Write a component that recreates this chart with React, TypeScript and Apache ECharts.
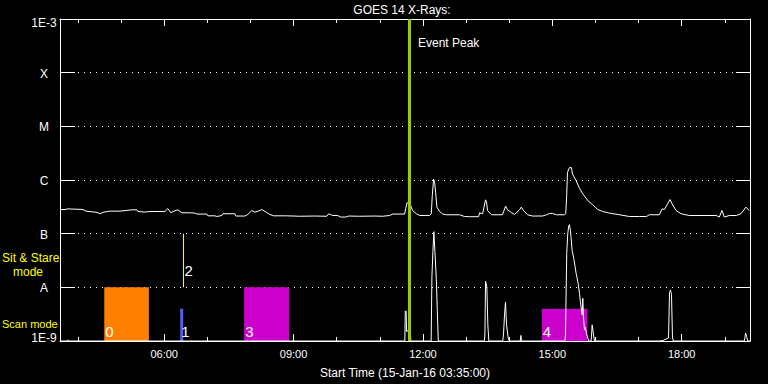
import React, { useEffect, useRef } from 'react';
import * as echarts from 'echarts';

// ---- data ----
const titleText = 'GOES 14 X-Rays:';
const axisTitle = 'Start Time (15-Jan-16 03:35:00)';
const xStartHour = 3.5833; // 03:35
const xEndHour = 19.5833; // 19:35
const majorHours = [6, 9, 12, 15, 18];
const minorHours = [4, 5, 6, 7, 8, 9, 10, 11, 12, 13, 14, 15, 16, 17, 18, 19];
const yTickLabels = ['1E-9', 'A', 'B', 'C', 'M', 'X', '1E-3'];

// long channel flux (W/m^2), hours of day
const longTime = [
  3.583, 3.722, 3.745, 4.116, 4.185, 4.394, 4.463, 4.51, 4.6, 4.741,
  4.973, 5.251, 5.367, 5.39, 5.55, 5.668, 6.015, 6.085, 6.155, 6.224,
  6.317, 6.409, 6.594, 6.71, 6.756, 6.988, 7.011, 7.174, 7.22, 7.336,
  7.359, 7.637, 7.66, 7.869, 7.938, 8.031, 8.1, 8.18, 8.262, 8.378,
  8.447, 8.54, 8.841, 9.142, 9.49, 9.768, 9.814, 9.907, 10.023, 10.092,
  10.208, 10.278, 10.532, 10.88, 11.065, 11.227, 11.3, 11.575, 11.598, 11.628,
  11.69, 11.729, 11.76, 11.846, 11.922, 12.154, 12.193, 12.216, 12.246, 12.27,
  12.293, 12.323, 12.385, 12.455, 12.547, 12.849, 12.964, 13.08, 13.29, 13.312,
  13.382, 13.451, 13.474, 13.497, 13.59, 13.845, 13.915, 13.961, 14.054, 14.123,
  14.239, 14.278, 14.331, 14.424, 14.54, 14.771, 14.864, 14.934, 15.003, 15.096,
  15.281, 15.31, 15.33, 15.351, 15.397, 15.443, 15.467, 15.552, 15.629, 15.706,
  15.822, 15.938, 16.053, 16.162, 16.324, 16.556, 16.788, 17.019, 17.181, 17.25,
  17.482, 17.545, 17.598, 17.73, 17.776, 17.869, 17.985, 18.177, 18.802, 18.872,
  18.934, 18.987, 19.103, 19.265, 19.374, 19.49, 19.566,
];
const longFlux = [
  2.82e-7, 2.82e-7, 2.9e-7, 2.82e-7, 2.63e-7, 2.52e-7, 2.45e-7, 2.35e-7, 2.52e-7, 2.63e-7,
  2.63e-7, 2.78e-7, 2.78e-7, 2.59e-7, 2.52e-7, 2.59e-7, 2.59e-7, 2.94e-7, 2.45e-7, 2.63e-7,
  2.78e-7, 2.45e-7, 2.45e-7, 2.42e-7, 2.32e-7, 2.32e-7, 2.15e-7, 2.15e-7, 2.09e-7, 2.18e-7,
  2.35e-7, 2.35e-7, 2.13e-7, 2.13e-7, 2.28e-7, 2.7e-7, 2.52e-7, 2.63e-7, 2.82e-7, 2.48e-7,
  2.28e-7, 2.15e-7, 2.15e-7, 2.11e-7, 2.13e-7, 2.11e-7, 2.35e-7, 2.18e-7, 2.18e-7, 2.04e-7,
  2.04e-7, 2.13e-7, 2.11e-7, 2.13e-7, 2.11e-7, 2.18e-7, 2.32e-7, 2.32e-7, 2.9e-7, 3.75e-7,
  3.75e-7, 3.12e-7, 2.7e-7, 2.35e-7, 2.18e-7, 2.18e-7, 2.35e-7, 5.12e-7, 1.04e-6, 9.06e-7,
  5.92e-7, 3.12e-7, 2.59e-7, 2.32e-7, 2.25e-7, 2.25e-7, 2.09e-7, 2.07e-7, 2.07e-7, 2.45e-7,
  2.35e-7, 4.27e-7, 3.86e-7, 2.7e-7, 2.25e-7, 2.25e-7, 3.26e-7, 2.78e-7, 2.45e-7, 2.28e-7,
  2.78e-7, 3.12e-7, 2.7e-7, 2.25e-7, 2.13e-7, 2.13e-7, 2.25e-7, 2.38e-7, 2.38e-7, 2.25e-7,
  2.25e-7, 2.35e-7, 4.45e-7, 1.39e-6, 1.7e-6, 1.7e-6, 1.29e-6, 9.7e-7, 7.02e-7, 5.51e-7,
  4.14e-7, 3.44e-7, 2.82e-7, 2.59e-7, 2.42e-7, 2.25e-7, 2.09e-7, 2.09e-7, 2.09e-7, 2.25e-7,
  2.25e-7, 2.9e-7, 2.82e-7, 4.32e-7, 3.59e-7, 2.7e-7, 2.35e-7, 2.18e-7, 2.18e-7, 2.04e-7,
  2.7e-7, 2.04e-7, 2.18e-7, 2.18e-7, 2.35e-7, 3.12e-7, 2.7e-7,
];

// short channel flux
const shortTime = [
  3.583, 3.76, 3.77, 3.78, 11.58, 11.59, 11.61, 11.62, 11.7, 11.72,
  12.19, 12.207, 12.23, 12.253, 12.277, 12.309, 12.332, 12.355, 13.42, 13.436,
  13.451, 13.481, 13.504, 13.528, 13.85, 13.868, 13.891, 13.914, 13.938, 13.977,
  14.0, 14.255, 14.27, 14.285, 15.29, 15.304, 15.334, 15.357, 15.38, 15.397,
  15.42, 15.459, 15.497, 15.552, 15.598, 15.629, 15.659, 15.691, 15.706, 15.722,
  15.745, 15.768, 15.798, 15.845, 15.9, 15.923, 15.937, 15.976, 17.52, 17.528,
  17.54, 17.694, 17.717, 17.74, 17.763, 17.786, 17.809, 19.45, 19.467, 19.481,
  19.504, 19.531, 19.583,
];
const shortFlux = [
  1e-9, 1e-9, 1.05e-9, 1e-9, 1e-9, 3.6e-9, 3.6e-9, 1.5e-9, 1.67e-9, 1e-9,
  1e-9, 1.53e-8, 4.64e-8, 1.09e-7, 4.64e-8, 1.47e-8, 3.75e-9, 1e-9, 1e-9, 1.24e-9,
  1.31e-8, 1.03e-8, 2.0e-9, 1e-9, 1e-9, 1.35e-9, 3.07e-9, 5.27e-9, 2.0e-9, 1.14e-9,
  1e-9, 1e-9, 1.27e-9, 1e-9, 1e-9, 1.24e-9, 4.26e-8, 1e-7, 1.39e-7, 1.47e-7,
  1.15e-7, 4.9e-8, 3.44e-8, 1.82e-8, 1.19e-8, 7.74e-9, 4.7e-9, 3.07e-9, 6.25e-9, 2.8e-9,
  1.62e-9, 1.79e-9, 1.31e-9, 1e-9, 1e-9, 2.0e-9, 2.0e-9, 1e-9, 1e-9, 1.04e-9,
  1e-9, 1.14e-9, 8.08e-9, 8.8e-9, 7.4e-9, 1.14e-9, 1e-9, 1e-9, 1.17e-9, 1.41e-9,
  1.22e-9, 1e-9, 1e-9,
];

const eventPeakHour = 11.675;
const eventLabel = 'Event Peak';

// scan mode observations
const scanStart = [4.61, 6.371, 7.853, 14.756];
const scanEnd = [5.644, 6.44, 8.896, 15.81];
const scanTop = [1e-8, 4e-9, 1e-8, 4e-9];
const scanLabel = ['0', '1', '3', '4'];
const scanColor = ['#ff8000', '#5a5aff', '#cc00cc', '#cc00cc'];

// sit & stare observations
const stareTime = [6.447];
const stareLow = [1e-8];
const stareHigh = [1e-7];
const stareLabel = ['2'];

const FONT = '"Liberation Sans", Arial, sans-serif';

function fmtHour(v: number) {
  const h = Math.round(v);
  return (h < 10 ? '0' : '') + h + ':00';
}

export default function App() {
  const ref = useRef<HTMLDivElement>(null);
  useEffect(() => {
    if (!ref.current) return;
    const chart = echarts.init(ref.current, undefined, { renderer: 'svg' });
    const white = '#ffffff';
    const baseX = {
      type: 'value',
      min: xStartHour,
      max: xEndHour,
      splitLine: { show: false },
    };
    const yLabelStyle = { color: white, fontSize: 12, fontFamily: FONT };
    const option: any = {
      animation: false,
      backgroundColor: '#000000',
      textStyle: { fontFamily: FONT },
      grid: { left: 60, right: 18, top: 19, bottom: 41, containLabel: false },
      xAxis: [
        {
          ...baseX,
          position: 'bottom',
          axisLine: { show: true, lineStyle: { color: white, width: 1 } },
          axisTick: { show: true, inside: true, length: 4, lineStyle: { color: white }, customValues: minorHours },
          axisLabel: {
            show: true, color: white, fontSize: 11, fontFamily: FONT, margin: 7,
            customValues: majorHours, formatter: (v: number) => fmtHour(v),
          },
          name: axisTitle,
          nameLocation: 'middle',
          nameGap: 26,
          nameTextStyle: { color: white, fontSize: 12, fontFamily: FONT },
        },
        {
          ...baseX,
          position: 'top',
          axisLine: { show: true, lineStyle: { color: white, width: 1 } },
          axisTick: { show: true, inside: true, length: 4, lineStyle: { color: white }, customValues: minorHours },
          axisLabel: { show: false },
        },
        {
          ...baseX,
          position: 'bottom',
          axisLine: { show: false },
          axisTick: { show: true, inside: true, length: 7, lineStyle: { color: white }, customValues: majorHours },
          axisLabel: { show: false },
        },
        {
          ...baseX,
          position: 'top',
          axisLine: { show: false },
          axisTick: { show: true, inside: true, length: 7, lineStyle: { color: white }, customValues: majorHours },
          axisLabel: { show: false },
        },
      ],
      yAxis: [
        {
          type: 'log', logBase: 10, min: 1e-9, max: 1e-3, splitNumber: 6,
          position: 'left',
          axisLine: { show: true, lineStyle: { color: white } },
          axisTick: { show: true, inside: true, length: 15, lineStyle: { color: white } },
          minorTick: { show: false },
          axisLabel: {
            show: true, color: white, fontSize: 12, fontFamily: FONT, margin: 16, align: 'center',
            formatter: (v: number) => {
              const e = Math.round(Math.log10(v));
              const t = yTickLabels[e + 9] ?? '';
              if (e === -9) return '{lo|' + t + '}';
              if (e === -3) return '{hi|' + t + '}';
              return '{mid|' + t + '}';
            },
            rich: {
              lo: { ...yLabelStyle, padding: [0, 0, 7, 0] },
              hi: { ...yLabelStyle, padding: [8, 0, 0, 0] },
              mid: { ...yLabelStyle, padding: [2, 0, 0, 0] },
            },
          },
          splitLine: { show: true, lineStyle: { color: white, type: [1, 5], width: 1 } },
        },
        {
          type: 'log', logBase: 10, min: 1e-9, max: 1e-3, splitNumber: 6,
          position: 'right',
          axisLine: { show: true, lineStyle: { color: white } },
          axisTick: { show: true, inside: true, length: 14, lineStyle: { color: white } },
          axisLabel: { show: false },
          splitLine: { show: false },
        },
      ],
      series: [
        {
          type: 'custom',
          xAxisIndex: 0, yAxisIndex: 0,
          silent: true,
          z: 1,
          encode: { x: [0, 1], y: 2 },
          data: scanStart.map((s, i) => [s, scanEnd[i], scanTop[i]]),
          renderItem: (params: any, api: any) => {
            const i = params.dataIndex;
            const p0 = api.coord([api.value(0), api.value(2)]);
            const p1 = api.coord([api.value(1), 1e-9]);
            return {
              type: 'group',
              children: [
                {
                  type: 'rect',
                  shape: { x: p0[0], y: p0[1], width: p1[0] - p0[0], height: p1[1] - p0[1] },
                  style: { fill: scanColor[i] },
                },
                {
                  type: 'text',
                  x: p0[0] + 1,
                  y: p1[1] - 2,
                  style: { text: scanLabel[i], fill: white, font: '15px ' + FONT, align: 'left', verticalAlign: 'bottom' },
                },
              ],
            };
          },
        },
        {
          type: 'custom',
          xAxisIndex: 0, yAxisIndex: 0,
          silent: true,
          z: 1,
          encode: { x: 0, y: [1, 2] },
          data: stareTime.map((t, i) => [t, stareLow[i], stareHigh[i]]),
          renderItem: (params: any, api: any) => {
            const i = params.dataIndex;
            const p0 = api.coord([api.value(0), api.value(1)]);
            const p1 = api.coord([api.value(0), api.value(2)]);
            return {
              type: 'group',
              children: [
                {
                  type: 'line',
                  shape: { x1: p0[0], y1: p0[1], x2: p1[0], y2: p1[1] },
                  style: { stroke: '#ffff00', lineWidth: 1 },
                },
                {
                  type: 'text',
                  x: p0[0] + 1,
                  y: p0[1] - 17,
                  style: { text: stareLabel[i], fill: white, font: '15px ' + FONT, align: 'left', verticalAlign: 'middle' },
                },
              ],
            };
          },
        },
        {
          type: 'line',
          xAxisIndex: 0, yAxisIndex: 0,
          data: shortTime.map((t, i) => [t, shortFlux[i]]),
          showSymbol: false, symbol: 'none',
          lineStyle: { color: white, width: 1 },
          silent: true,
          z: 3,
        },
        {
          type: 'line',
          xAxisIndex: 0, yAxisIndex: 0,
          data: longTime.map((t, i) => [t, longFlux[i]]),
          showSymbol: false, symbol: 'none',
          lineStyle: { color: white, width: 1 },
          silent: true,
          z: 3,
          markLine: {
            silent: true,
            symbol: ['none', 'none'],
            label: { show: false },
            lineStyle: { color: '#9acd00', width: 3, type: 'solid' },
            data: [{ xAxis: eventPeakHour }],
          },
        },
      ],
      graphic: [
        { type: 'text', x: 402, y: 10, style: { text: titleText, fill: white, font: '12px ' + FONT, align: 'center', verticalAlign: 'middle' } },
        { type: 'text', x: 418, y: 43, style: { text: eventLabel, fill: white, font: '12px ' + FONT, align: 'left', verticalAlign: 'middle' } },
        { type: 'text', x: 2, y: 258, style: { text: 'Sit & Stare', fill: '#ffff00', font: '12px ' + FONT, lineHeight: 12, align: 'left', verticalAlign: 'middle' } },
        { type: 'text', x: 13, y: 272, style: { text: 'mode', fill: '#ffff00', font: '12px ' + FONT, lineHeight: 12, align: 'left', verticalAlign: 'middle' } },
        { type: 'text', x: 2, y: 324, style: { text: 'Scan mode', fill: '#ffff00', font: '11px ' + FONT, lineHeight: 11, align: 'left', verticalAlign: 'middle' } },
      ],
    };
    chart.setOption(option);
    return () => chart.dispose();
  }, []);
  return (
    <div
      ref={ref}
      style={{ position: 'fixed', left: 0, top: 0, width: 768, height: 384, background: '#000' }}
    />
  );
}
